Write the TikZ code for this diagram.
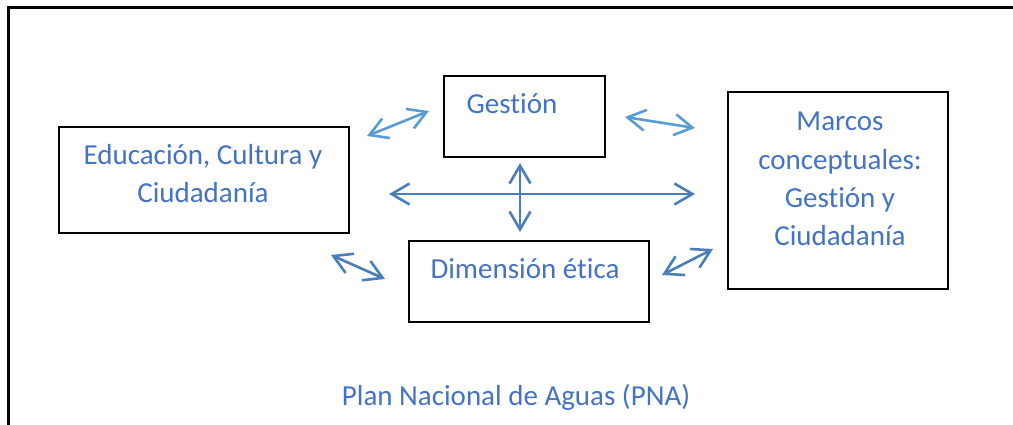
\documentclass[tikz,border=0pt]{standalone}
\usepackage{fontspec}
\setmainfont{Carlito}[Ligatures=NoCommon]
\usepackage{tikz}
\usetikzlibrary{arrows.meta}

\definecolor{txtblue}{HTML}{4472C4}
\definecolor{lightarr}{HTML}{5B9BD5}
\definecolor{darkarr}{HTML}{4A7EBB}

\tikzset{
  box/.style={draw=black,line width=2.6pt,inner sep=0pt},
  lbl/.style={text=txtblue,font=\fontsize{29}{38.5}\selectfont,anchor=base,align=center,inner sep=0pt},
  dbl/.style={line width=2.6pt,{Straight Barb[length=18pt,width=21pt]}-{Straight Barb[length=18pt,width=21pt]}}
}

\begin{document}
\begin{tikzpicture}[x=1pt,y=-1pt]
\useasboundingbox (0,0) rectangle (1013,425);
\draw[line width=3pt] (8,425) -- (8,8) -- (1013,8);

% boxes
\node[box,minimum width=161pt,minimum height=81pt] (gestion) at (524.5,116.5) {};
\node[box,minimum width=290pt,minimum height=106pt] (educ) at (204,180) {};
\node[box,minimum width=220pt,minimum height=197pt] (marcos) at (838,190.5) {};
\node[box,minimum width=240pt,minimum height=81pt] (etica) at (529,281.5) {};

% texts (base = last line)
\node[lbl] (tgestion) at (512,114) {Gestión};
\node[lbl] (teduc) at (203,203) {Educación, Cultura y\\Ciudadanía};
\node[lbl] (tmarcos) at (840,246) {Marcos\\conceptuales:\\Gestión y\\Ciudadanía};
\node[lbl] (tetica) at (525,278) {Dimensión ética};
\node[lbl] (tpna) at (516,405) {Plan Nacional de Aguas (PNA)};

% arrow ends
\coordinate (a1) at (367,136);
\coordinate (b1) at (429,111);
\coordinate (a2) at (625,117);
\coordinate (b2) at (695,128);
\coordinate (a3) at (389,194);
\coordinate (b3) at (695,194);
\coordinate (a4) at (520,163);
\coordinate (b4) at (520,232);
\coordinate (a5) at (331,255);
\coordinate (b5) at (385,279);
\coordinate (a6) at (662,275);
\coordinate (b6) at (713,249);

\draw[dbl,lightarr] (a1) -- (b1);
\draw[dbl,lightarr] (a2) -- (b2);
\draw[dbl,darkarr] (a3) -- (b3);
\draw[dbl,darkarr] (a4) -- (b4);
\draw[dbl,darkarr] (a5) -- (b5);
\draw[dbl,darkarr] (a6) -- (b6);
\end{tikzpicture}
\end{document}
